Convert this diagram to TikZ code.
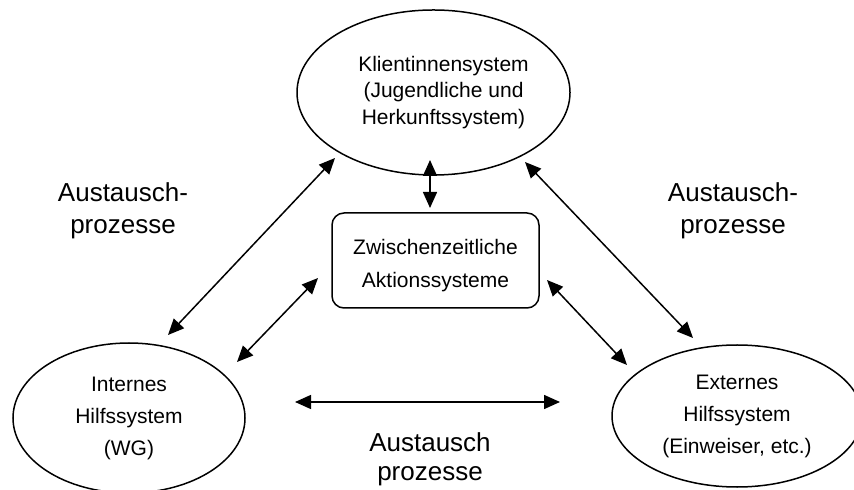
\documentclass[tikz,border=0pt]{standalone}
\usepackage{fontspec}
\setmainfont{Liberation Sans}
\usetikzlibrary{shapes.geometric,arrows.meta}
\begin{document}
\begin{tikzpicture}[x=0.5pt,y=-0.5pt,
  sysell/.style={draw,ellipse,line width=0.75pt,inner sep=0pt,align=center},
  aktbox/.style={draw,rounded corners=6pt,line width=0.75pt,inner sep=0pt,minimum width=103.5pt,minimum height=47.5pt},
  lbl/.style={align=center,inner sep=0pt},
  dbl/.style={line width=0.75pt,{Triangle[length=8pt,width=7pt]}-{Triangle[length=8pt,width=7pt]}}]
\useasboundingbox (0,0) rectangle (854,490);
\clip (0,0) rectangle (854,490);
\node[sysell,minimum width=136.5pt,minimum height=82.5pt,
  label={[lbl,xshift=5pt,font=\fontsize{10.5}{13.25}\selectfont]center:{Klientinnensystem\\(Jugendliche und\\Herkunftssystem)}}] (klient) at (433.5,92.5) {};
\node[sysell,minimum width=116pt,minimum height=75pt,font=\fontsize{10.5}{16}\selectfont] (intern) at (129,418) {Internes\\Hilfssystem\\(WG)};
\node[sysell,minimum width=125pt,minimum height=71pt,font=\fontsize{10.5}{16}\selectfont] (extern) at (737,416) {Externes\\Hilfssystem\\(Einweiser, etc.)};
\node[aktbox,
  label={[lbl,yshift=-2.75pt,font=\fontsize{10.5}{16.5}\selectfont]center:{Zwischenzeitliche\\Aktionssysteme}}] (akt) at (435.5,260.5) {};
\node[lbl,font=\fontsize{13}{16}\selectfont] (lblL) at (123,211) {Austausch-\\prozesse};
\node[lbl,font=\fontsize{13}{16}\selectfont] (lblR) at (733,211) {Austausch-\\prozesse};
\node[lbl,font=\fontsize{13}{14.5}\selectfont] (lblB) at (430,459) {Austausch\\prozesse};
\coordinate (a1s) at (335,158); \coordinate (a1e) at (168,335);
\coordinate (a2s) at (318,278); \coordinate (a2e) at (237,362);
\coordinate (a3s) at (525,162); \coordinate (a3e) at (693,338);
\coordinate (a4s) at (547,280); \coordinate (a4e) at (627,365);
\coordinate (a5s) at (295,402); \coordinate (a5e) at (560,402);
\coordinate (a6s) at (430,160); \coordinate (a6e) at (430,208);
\draw[dbl] (a1s) -- (a1e);
\draw[dbl] (a2s) -- (a2e);
\draw[dbl] (a3s) -- (a3e);
\draw[dbl] (a4s) -- (a4e);
\draw[dbl] (a5s) -- (a5e);
\draw[dbl] (a6s) -- (a6e);
\end{tikzpicture}
\end{document}
